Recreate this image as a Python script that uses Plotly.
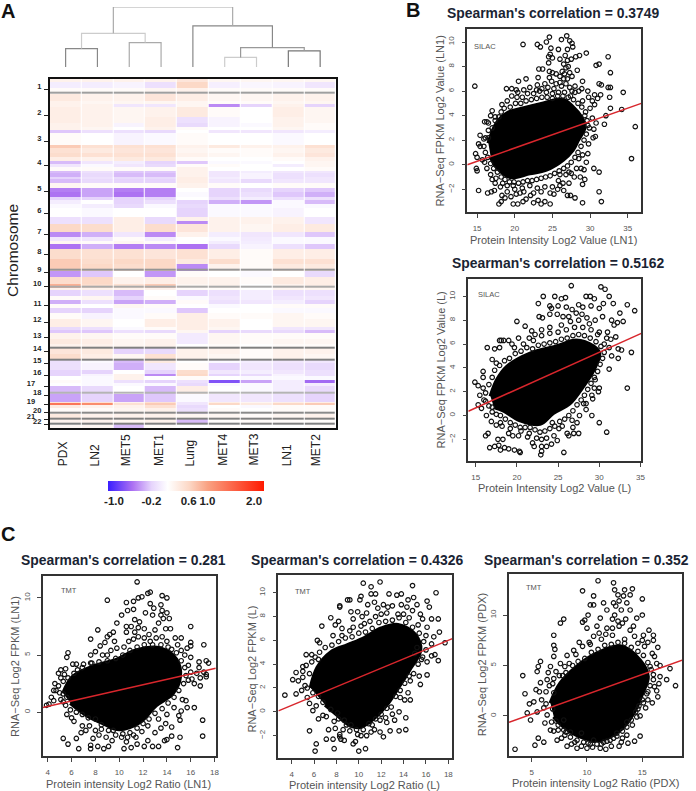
import plotly.graph_objs as go

W, H = 696, 791
FONT = 'Liberation Sans'
TICK_GREY = '#555555'

# ---- panel A: heatmap bands, position runs along the genome (top to bottom)
SAMPLES = ['PDX', 'LN2', 'MET5', 'MET1', 'Lung', 'MET4', 'MET3', 'LN1', 'MET2']
SAMPLE_LABEL_X = [63, 96, 127, 160, 191, 224, 255, 289, 318]

BAND_EDGES = [237, 247, 265, 283, 303, 313, 322, 350, 368, 380, 390, 400, 435, 445, 460, 470, 482, 492, 500, 512,
              520, 530, 538, 548, 565, 575, 590, 600, 612, 625, 650, 662, 672, 695, 710, 722, 733, 745, 775, 790,
              813, 830, 852, 862, 870, 888, 898, 910, 922, 938, 955, 980, 988, 998, 1015, 1030, 1043, 1060, 1078,
              1088, 1110, 1120, 1128, 1140, 1148, 1157, 1180, 1205, 1209, 1215, 1223, 1240, 1257, 1272, 1283]

PDX = [.3, 0, .2, .4, .3, .3, .35, .35, .3, .3,
       -.25, .2, .7, .5, .55, .35, -.3, -.05, .2, -.3,
       -.35, -.2, -.3, .25, -.55, -.6, -.2, 0, .1, .15,
       -.1, -.1, .6, -.5, -.05, .25, -.6, .55, .7, .7,
       -.45, .55, .9, .3, -.2, .2, -.35, .2, -.2, .2,
       .35, -.15, -.25, .3, .4, .3, .45, .55, -.1, -.1,
       -.2, -.2, .15, .2, .15, -.3, -.4, .5, 1.4, .4,
       .2, .4, .3, .25]
LN2 = [.3, 0, .2, .3, .25, .3, .3, .3, .3, .25,
       -.1, .15, .5, .4, .5, .3, -.05, .1, .2, -.1,
       -.15, -.1, -.15, .2, -.4, -.4, -.2, .15, 0, .1,
       -.1, -.1, .55, -.35, -.05, .2, -.35, .5, .55, .6,
       -.25, .6, .55, .3, -.1, .25, -.1, .15, -.2, .05,
       .25, -.1, -.25, .25, .35, .3, .4, .35, .1, .05,
       -.2, .05, .1, .1, .1, -.15, -.2, .5, 1.2, .3,
       .2, .3, .3, .25]
MET5 = [.3, .05, .2, .3, .25, -.05, .25, .25, .05, .15,
        -.1, .05, .5, .45, .5, .4, 0, -.05, .2, -.25,
        -.3, -.15, -.2, .2, -.55, -.6, -.2, -.2, -.15, .15,
        .35, .35, .35, -.05, .2, .25, -.55, .5, .6, .55,
        .15, .3, .5, .3, -.3, -.2, -.4, .25, .1, .1,
        .15, .1, -.1, .2, .25, .25, -.2, .25, -.3, -.35,
        .15, .3, .3, -.1, .1, .15, -.4, .3, .5, .3,
        .25, .3, .25, -.3]
MET1 = [.3, -.1, .25, .45, .25, -.05, .3, .35, .35, .3,
        -.15, .1, .5, .45, .5, .4, -.2, -.15, .2, -.25,
        -.3, -.15, -.2, .2, -.55, -.55, -.2, -.1, .1, .15,
        -.15, -.15, .55, -.5, 0, .2, -.5, .45, .6, .6,
        -.45, .35, .7, .3, .15, .2, -.35, .2, .1, .2,
        .35, .2, -.15, .2, .3, .3, -.15, .5, .4, -.05,
        -.2, -.5, .15, -.2, .1, -.3, -.25, .5, .7, .5,
        .3, .3, .3, .2]
LUNG = [.45, .6, .3, .35, .25, .25, .4, -.1, -.15, .2,
        .15, .2, .3, .25, .3, .2, -.25, .2, .3, .3,
        .3, .35, .35, .3, .15, .1, .15, -.2, -.15, -.2,
        .3, -.5, .45, .3, .15, .15, -.6, .5, .4, -.5,
        .2, .3, .25, .2, -.2, .1, .2, .15, -.25, .35,
        .35, .35, .25, -.02, -.02, .15, .3, .3, .15, .2,
        .55, .6, .2, -.1, -.15, .35, .1, -.05, -.05, -.15,
        -.1, .25, -.3, .15]
MET4 = [.25, .02, .2, .25, .2, -.5, .2, .05, .05, .15,
        -.05, .15, .4, .2, .25, .15, .1, .2, .15, -.05,
        -.05, 0, -.05, .2, -.2, -.2, -.1, -.35, .1, .1,
        .3, .3, .3, 0, .1, 0, -.15, .35, .55, .3,
        .15, .3, .3, .2, -.1, -.05, -.1, .1, .15, .2,
        .3, .25, -.2, .25, .25, .2, .3, .25, .1, -.2,
        -.05, -.2, .15, -.8, .1, .15, -.05, .35, .6, .15,
        .2, .25, .2, .2]
MET3 = [.25, .08, .2, .25, .2, -.2, .15, .15, .1, .15,
        -.05, .15, .3, .2, .2, .15, .1, .15, .15, 0,
        .05, .05, -.15, .15, -.15, -.1, 0, -.45, .1, .1,
        .3, .3, .25, -.05, -.02, 0, .05, .2, .2, .2,
        .1, .2, .15, .15, 0, 0, -.05, .15, .15, .2,
        .15, .15, -.15, .2, .2, .15, .2, .2, 0, -.05,
        0, -.15, .1, -.4, .1, .1, -.05, .25, .4, .1,
        .15, .2, .2, .15]
LN1 = [.25, .05, .2, .3, .25, .3, .35, .3, .3, .25,
       -.05, .1, .3, .25, .3, .2, .15, 0, .15, -.05,
       -.1, -.1, -.05, .2, -.2, -.25, -.1, .1, .1, .05,
       .3, .3, .35, -.05, .1, .1, -.1, .35, .5, .4,
       .15, .4, .3, .25, -.1, -.05, 0, .2, .1, .25,
       .25, -.05, -.15, .2, .25, .2, .3, .3, -.05, -.1,
       -.05, .05, .1, 0, 0, 0, -.1, .35, .6, .2,
       .2, .25, .2, .15]
MET2 = [.25, -.05, .2, .3, .25, -.2, .25, .25, .2, .2,
        0, .15, .5, .4, .45, .3, .25, .25, .2, -.05,
        -.1, -.05, -.05, .2, -.25, -.35, -.1, -.3, .1, .15,
        -.05, -.05, .4, -.25, .1, .1, -.25, .35, .5, .4,
        -.15, .35, .35, .25, -.1, -.05, -.2, .2, .1, .2,
        .25, -.05, -.3, .2, .25, .2, .3, .25, -.05, -.15,
        -.1, -.1, .1, -.65, 0, -.15, -.2, .35, .7, .2,
        .2, .3, .2, .2]

# rows without data, they show up as grey lines
MISSING_ROWS = [275, 805, 855, 1038, 1074, 1173, 1235, 1253, 1267]
MISSING_LEVEL = [.7, .8, .6, 1, 1, .5, .9, 1, 1]

CHROM_POS = [267, 345, 425, 495, 573, 640, 702, 762, 816, 860, 917, 967, 1013, 1053, 1090, 1125, 1158, 1185, 1212,
             1238, 1258, 1272]
CHROM_LABELS = ['1', '2', '3', '4', '5', '6', '7', '8', '9', '10', '11', '12', '13', '14', '15', '16',
                '17\u00a0\u00a0\u00a0', '18', '19\u00a0\u00a0\u00a0', '20', '21\u00a0\u00a0\u00a0', '22']

COLOR_TICKS = [-1.0, -0.2, 0.6, 1.0, 2.0]

# dendrogram: children are leaf numbers, or 9 + index of an earlier merge
MERGE_LEFT = [0, 2, 9, 5, 7, 12, 4, 11]
MERGE_RIGHT = [1, 3, 10, 6, 8, 13, 14, 15]
MERGE_HEIGHT = [56, 74, 102, 29, 49, 59, 125, 182]
MERGE_COLOUR = ['#888888', '#aaaaaa', '#cccccc', '#cccccc', '#777777', '#999999', '#888888', '#aaaaaa']

# ---- scatter panels, the solid core is an outline
B1_POINTS = [(14.7, 6.4), (15.2, -2.1), (21.1, 9.8), (23, 9.8), (23.4, 9.6), (24.2, 10), (24.6, 10.4), (24.8, 9.5),
             (24.7, 9), (24.5, 8.8), (24.5, 8.3), (25, 8.7), (26.2, 10.2), (26.9, 10.5), (27.3, 10.1), (27.6, 9.9),
             (27.7, 9.6), (27, 9.4), (26.7, 8.9), (27, 8.5), (26.5, 8.2), (26, 8.6), (27.5, 8.6), (28.1, 8.8),
             (28.6, 8.9), (29.5, 9.1), (25.8, 9.4), (30.8, 8.1), (31.2, 8.2), (32.4, 8.8), (32.7, 7.5), (31.2, 6.6),
             (31.5, 6.5), (32.4, 6.3), (32.7, 6.3), (34.4, 5.9), (32.6, 5.5), (32.7, 4.6), (34.2, 4.5), (36, 3.1),
             (35.5, 0.5), (32.1, 4), (31.9, 3.3), (30.5, -0.3), (31.2, -0.6), (31.2, -2.2), (31.5, -3), (29, -3.1),
             (28, -2.7), (27.4, -2.5), (27, -2.5), (21.5, 7), (20.5, 6.8), (19.6, 6.2), (20.2, 6.1), (18.9, 6.2),
             (23.2, 7.8), (23.7, 7.8), (23.1, 7.1), (24.6, 7.6), (25, 7.5), (25.5, 7.4), (26, 7.2), (26.5, 7),
             (27, 7), (27.6, 7.2), (28.3, 7.7), (24, 6.6), (24.9, 6.8), (25.5, 6.6), (26.2, 6.4), (27.3, 6.3),
             (28, 6.4), (29, 6.8), (28, 5.9), (16, 3.5), (16.3, 3.5), (15.4, 2.4), (15.2, 1.7), (15.4, 1.5),
             (14.8, 0.9), (15, 0.6), (15.7, 0.4), (14.9, -0.3), (15, -0.5), (16.5, 3.4), (17, 4.4), (16.8, 4),
             (17.4, 3.9), (16.5, 2.8), (15.9, 2.1), (16, 0.2), (16.3, -0.3), (16.8, -0.8), (17, -1.2), (17.4, -1.5),
             (16.9, -2.2), (16.4, -2.3), (17.3, -2.1), (18.1, -1.8), (18.3, -2.5), (18.7, -2.7), (18.2, -3),
             (17.9, -3.2), (19, -2.2), (19.8, -1.7), (20.2, -2.4), (20.7, -2.3), (19.8, -3.2), (20.4, -3.2),
             (21.1, -3), (21.2, -2.2), (21.5, -2.8), (22.1, -2.5), (22.5, -3.1), (23.1, -2.9), (23.5, -3.2),
             (24, -3), (24.7, -3.2), (24.7, -2.3), (25.2, -2.4), (25.7, -2), (25.8, -1.3), (26.4, -1.5), (26, -0.8),
             (26.8, -0.8), (26.5, -2.1), (27.2, -1.5), (27.5, -0.7), (28.2, -0.3), (28.8, -0.3), (29.2, -0.4),
             (29, -1.6), (29.3, -1.2), (29.5, 0.2), (29, 0.8), (28.5, 0.5), (29.7, 0.9), (29.8, 1.7), (30.4, 2.2),
             (30.7, 2.3), (30.5, 2.9), (30.8, 3.4), (30.3, 3.8), (29.7, 3.2), (29.4, 4.3), (30, 4.6), (30.6, 4.9),
             (31, 5.4), (31.4, 5.7), (30.6, 5.7), (29.8, 5.5), (29, 5.2), (28.5, 6), (27.4, 5.6), (26.6, 5.9),
             (25.8, 5.9), (25, 5.8), (24.2, 5.9), (23.3, 6), (22.5, 5.8), (21.7, 5.8), (21, 5.5), (20.3, 5.5),
             (19.6, 5.6), (19, 5.2), (18.3, 4.9), (18.2, 4.3),
             (18.6, 4.6), (19.4, 4.7), (20.1, 5), (20.8, 5), (21.5, 5.2), (22.2, 5.3), (22.9, 5.4), (23.6, 5.5),
             (24.3, 5.5), (25, 5.4), (25.7, 5.6), (26.4, 5.6), (27.1, 5.5), (27.8, 5.3), (28.4, 5), (28.9, 4.7),
             (29.3, 4), (29.6, 3.6), (29.9, 3), (29.5, 2.5), (29.2, 2), (28.8, 1.5), (28.4, 1), (28, 0.6), (27.5, 0.2),
             (27, -0.1), (26.5, -0.3), (25.9, -0.5), (25.3, -0.7), (24.7, -0.9), (24.1, -1), (23.5, -1.1), (22.9, -1.2),
             (22.3, -1.3), (21.7, -1.3), (21.1, -1.4), (20.5, -1.5), (19.9, -1.4), (19.3, -1.4), (18.7, -1.2),
             (18.2, -1), (17.7, -0.6), (17.2, -0.3), (16.8, 0.1), (16.4, 0.6), (16.1, 1), (15.9, 1.5), (16.1, 2.2),
             (16.5, 2.2), (17, 3), (17.4, 3.6), (17.9, 3.9), (23, 6.5), (23.6, 6.2), (24.4, 6.3), (25.2, 6.2), (26, 6.7),
             (26.8, 6.6), (27.6, 6), (24.6, 7.1), (26.3, 7.6), (26.8, 7.9), (27.1, 8), (26.6, 7.4), (27.3, 7.5),
             (22.9, 6.1), (22, 6.3), (21.2, 6.1), (20.4, 5.9), (28.9, 6.2), (29.7, 6), (30.3, 5.2), (28.7, -1), (27.9, -1),
             (27.2, -0.6), (26, -1.7), (25, -1.8), (24, -1.8), (23, -1.9), (22, -1.7), (21, -1.9), (20, -2), (19, -1.7),
             (18.4, -1.5), (17.5, -1.1), (23.5, -2.2), (22.5, -2.3), (19.5, -2.6)]
B1_CORE = [(16.5, 1.75), (17.6, 3.4), (19, 4.2), (21.2, 4.6), (23.8, 5.0), (26.4, 5.3), (27.7, 4.7), (28.8, 3.9),
           (29.3, 3.1), (28.4, 2.0), (27.7, 1.2), (26.4, 0.4), (24.2, -0.4), (22, -0.7), (19.4, -1.0), (17.6, -0.2),
           (16.8, 0.65)]
B1_FIT = [(13.7, 0), (36.8, 5.0)]

B2_POINTS = [(26.6, 10.9), (30.2, 10.8), (30.7, 10.6), (31.2, 10), (31.7, 9.4), (30.5, 9.4), (33.4, 9.3), (34.3, 8.8),
             (32.5, 8.6), (23.2, 10), (22.6, 9.4), (24.6, 10), (25.4, 9.8), (25.9, 9.9), (24, 9.2), (24.2, 9), (25, 9.2),
             (26, 9.1), (26.7, 8.9), (27.5, 9.3), (28.4, 10), (28.9, 10), (29.4, 9.8), (28, 9.1), (29, 9.2), (30, 9),
             (20, 7.9), (21, 7.5), (22.7, 8.3), (23.1, 8.2), (24, 8.5), (24.9, 8.5), (25.6, 8.3), (26.5, 7.9), (27.5, 8),
             (28.5, 8.2), (29.5, 8), (30.4, 8.3), (31.5, 8), (32.2, 7.8), (32.9, 7.9), (31.8, 7.6), (21.8, 7.1),
             (22.2, 6.8), (23, 7.2), (24, 7.4), (19, 6.3), (18.1, 6.3), (17.9, 6.3), (18.4, 6.3), (16.4, 5.7), (17.3, 5.6),
             (17.9, 5.7), (19.4, 6), (19.7, 5.7), (20.2, 6.5), (32, 6.6), (30.9, 6.5), (29.8, 6.8), (31.2, 5.7),
             (32.3, 5.6), (32.7, 5.5), (33.9, 5.3), (31.5, 5), (32.3, 4.8), (31.2, 3.9), (33.4, 2.3), (30.9, -1.4),
             (30, -0.6), (29.1, 0), (28.1, 1), (28.4, 1), (29.2, 1.4), (29.1, 1.7), (29.4, 2.3), (29.9, 2), (30, 2.3),
             (29.5, 3), (26.8, -1), (26.1, -1.5), (26.3, -1.7), (25.7, -3.1), (25.1, -1.1), (24.3, -0.6), (24.9, -2.1),
             (24.2, -2.4), (23.6, -2.6), (23, -2.6), (23, -3), (22.9, -3.3), (23, -2), (22.1, -2.6), (21.9, -2.3),
             (20.4, -3.1), (20.3, -3), (19.7, -2.9), (19, -2.8), (18.5, -2.7), (18, -2.9), (17.8, -2.5), (16.7, -2.7),
             (17.3, -2.6), (16.5, -1.5), (16.2, -1.7), (17.7, -2), (18.3, -2), (19, -1.5), (19.5, -1.7), (20.5, -1.3),
             (21.5, -1.5), (25.5, -0.9), (27.5, -1.5), (26.9, -1.5), (24.5, -1.7), (15.9, 3.7), (15.9, 3.2), (14.9, 2.8),
             (15.3, 2.5), (15.9, 2.3), (15.5, 1.7), (16, 1.3), (15.3, 0.9), (15.7, 0.6), (16.3, 0), (17, 0.7), (16.9, -0.5),
             (17.5, -0.8), (18, -0.6), (17, 4.7), (17.5, 4.4),
             (16.2, 1.9), (16.6, 2.6), (17, 3.2), (17.3, 3.8), (17.9, 4.2), (18.5, 4.6), (19.1, 4.8), (19.8, 5.2),
             (20.5, 5.4), (21.2, 5.7), (21.9, 5.6), (22.6, 5.9), (23.3, 6), (24, 6.1), (24.7, 6.2), (25.4, 6.4), (26.1, 6.5),
             (26.8, 6.7), (27.5, 6.8), (28.2, 6.7), (28.9, 6.5), (29.6, 6.2), (30.2, 5.8), (30.6, 5.3), (30.4, 4.8),
             (30.1, 4.3), (29.8, 3.7), (29.4, 3.2), (29, 2.7), (28.6, 2.2), (28.2, 1.7), (27.8, 1.3), (27.3, 0.9),
             (26.8, 0.4), (26.3, 0), (25.8, -0.3), (25.2, -0.5), (24.6, -0.9), (24, -1.1), (23.4, -1.3), (22.8, -1.4),
             (22.2, -1.2), (21.6, -1), (21, -1), (20.4, -1), (19.8, -0.8), (19.2, -0.6), (18.6, -0.3), (18, 0), (17.5, 0.1),
             (17, 0.3), (16.6, 0.8), (16.2, 1.2), (22, 6.3), (23, 6.7), (24, 6.9), (25, 7), (26, 7.2), (27, 7.4), (28, 7.4),
             (29, 7.2), (30, 7), (31, 7), (25.4, 7.6), (26.3, 8.3), (27.2, 8.6), (27.9, 8.5), (28.8, 7.7), (20.8, 6),
             (21.5, 6.5), (30.6, 6), (31.4, 6.4), (28.4, 0.5), (27.6, 0), (26.7, -0.4), (22.4, -1.9), (21.3, -1.8),
             (20.2, -1.7), (19.2, -1.1), (18.2, -0.9), (23.6, -1.9), (27.3, -0.6)]
B2_CORE = [(16.8, 1.6), (17.6, 3.0), (18.8, 4.1), (21.6, 5.2), (24.8, 5.8), (27.2, 6.3), (29.3, 5.8), (30, 5.2),
           (29.3, 3.8), (28, 2.4), (26.4, 1.0), (24.4, 0.2), (22.8, -0.7), (20.4, -0.4), (18.4, 0.4), (17.2, 0.7)]
B2_FIT = [(14.1, 0.36), (35.1, 6.9)]

C1_POINTS = [(11.5, 11.4), (12.4, 10.4), (12.6, 10.5), (13.6, 10.2), (14, 10), (11.9, 10.1), (11.6, 10), (11.2, 9.7),
             (10.6, 9.6), (9, 9.8), (12.6, 9.5), (13.5, 9.4), (11.2, 9), (10.7, 8.9), (12.9, 9.1), (13.6, 8.9), (14, 8.7),
             (12.2, 8.7), (12.8, 8.5), (10.2, 8.5), (13.5, 8.5), (13.7, 8.2), (14.2, 8.2), (11.3, 8.1), (11.7, 7.9),
             (9.8, 7.8), (10.6, 7.5), (11, 7.5), (11.6, 7.4), (12.1, 7.3), (13.9, 7.3), (14.3, 7.3), (16, 7.5), (8.2, 7.2),
             (9.5, 7), (9.2, 6.8), (10.6, 7), (9, 6.6), (7.6, 6.4), (12.5, 6.8), (8.8, 6.1), (9.6, 6.2), (14.7, 6.5),
             (15.2, 6.5), (16, 6.1), (16, 5.8), (17.1, 5.9), (15.7, 5.6), (15.2, 5.4), (15.5, 5), (16, 4.8), (14.4, 5.5),
             (5.7, 5.2), (5.6, 4.8), (7.6, 5), (8, 5.3), (8.6, 5), (9, 5), (6.1, 4.2), (6.4, 4.2), (7, 4.2), (7.7, 4.3),
             (5.5, 3.8), (5.1, 3.7), (4.9, 3.4), (5.4, 3.3), (6.5, 3.7), (16.7, 4.4), (17.3, 4.5), (17.5, 4.3), (15.8, 4.1),
             (16, 3.5), (16.7, 3.9), (16.5, 3.4), (17.1, 3.5), (17.3, 3.3), (16.8, 3), (16.1, 2.9), (16.3, 2.5), (16.8, 2.3),
             (17.3, 3.1), (15.8, 2.8), (4.5, 1.9), (4.7, 1.9), (5, 1.7), (4.3, 1.3), (4.1, 0.7), (5.3, 0.9), (5.6, 1.3),
             (5.3, 1.6), (15.3, 1.1), (15.6, 1), (15.7, 0.4), (16.3, 0.4), (15.2, 0.1), (15.1, -0.7), (15, -0.3), (14.4, -1.3),
             (13.9, -1), (13.5, -1.4), (14.4, -2.1), (15.1, -2.2), (17, -0.7), (17, -2.1), (14.9, -3.1), (14, -2.4),
             (13.8, -2.5), (13.3, -3), (12.8, -3), (12.1, -3), (11.5, -2.8), (11, -3.1), (10.4, -3.2), (9.1, -3), (8.7, -3.2),
             (8.2, -3), (7.6, -3.2), (7.6, -2.9), (6.6, -3.2), (6.4, -2.3), (5.7, -2.8), (5.3, -2.3), (7.8, -2.3), (8, -1.6),
             (8.5, -1.5), (9.5, -1.6), (10.2, -2.2), (10.7, -2.2), (11.2, -2), (12.4, -2.5), (13, -1.8), (6.2, -0.8),
             (6.9, -1.2), (7.5, -1.2), (5.6, -0.2), (6, -0.5),
             (4.9, 2.3), (5.3, 2.7), (5.7, 3), (6.2, 3.4), (6.9, 3.9), (7.6, 4.3), (8.3, 4.4), (9, 4.5), (9.7, 4.7), (10.3, 5),
             (10.9, 5.4), (11.5, 5.7), (12.1, 5.9), (12.8, 5.9), (13.5, 5.9), (14.1, 5.7), (14.8, 5.2), (15.2, 4.5),
             (15.5, 3.9), (15.6, 3.2), (15.4, 2.5), (15, 1.9), (14.6, 1.3), (14.1, 0.8), (13.6, 0.3), (13, -0.1), (12.5, -0.6),
             (12, -1), (11.5, -1.4), (10.9, -1.8), (10.3, -1.9), (9.7, -2), (9.1, -1.6), (8.5, -1.1), (8, -0.6), (7.4, -0.5),
             (6.9, -0.2), (6.4, 0), (5.9, 0.2), (5.5, 0.6), (5.1, 1.1), (10.4, 5.7), (10.8, 6.2), (11.2, 6.4), (11.6, 6.6),
             (12.1, 6.5), (12.6, 6.2), (13.1, 6.5), (13.6, 6.6), (14, 6.2), (11.3, 7), (13, 7.2), (13.3, 7.8), (9.8, 5.6),
             (9.3, 5.4), (8.4, 5.8), (14.9, 5.9), (10.6, -2.6), (11.4, -2.2), (11.9, -1.7), (9.4, -2.5), (8.9, -2.2), (8.3, -2),
             (6.8, -1.8), (7.2, -1.6), (12.4, -1.2), (13.3, -0.6), (14, -0.2), (14.6, 0.4), (5.1, 3), (4.6, 2.5), (3.9, 0.6),
             (4.5, 1)]
C1_CORE = [(5.3, 1.66), (6.1, 3.1), (7.8, 4), (9.8, 4.6), (11.4, 5.4), (13.4, 5.6), (14.8, 4.6), (15.1, 3.1), (14.5, 1.66),
           (13.1, 0.6), (11.7, -0.9), (10, -1.5), (8.7, -1), (7.3, -0.3), (5.9, 0.8)]
C1_FIT = [(3.58, 0.41), (18.1, 3.84)]

C2_POINTS = [(10.4, 10.8), (11.9, 10.9), (11.1, 10.5), (14.8, 10.6), (16.9, 10), (9.2, 9.4), (10.1, 9.4), (10.2, 9.7),
             (11.1, 9.9), (11.5, 9.9), (12.7, 9.9), (13.4, 9.8), (13.8, 9.9), (14.4, 9.4), (14.9, 9.6), (15.2, 9), (16.1, 9.3),
             (16.3, 8.8), (8.3, 8.9), (9.3, 8.4), (9.9, 8.4), (10.7, 8.3), (11.4, 9.2), (12.2, 9), (15.7, 7.8), (16.5, 7.8),
             (17.1, 7.8), (16.1, 7.1), (17.2, 6.7), (16.5, 5.7), (17.7, 5.8), (16.5, 4.7), (16.8, 4.8), (16.1, 4.2), (17.1, 4.3),
             (15.4, 3), (16.1, 3.1), (15.5, 2.3), (14.4, 1.6), (14.1, 1), (14.6, 1), (14.2, -0.5), (14.2, -1.5), (13.6, -1.6),
             (12.8, -1.6), (12.2, -2.1), (11.9, -1.7), (11.1, -1.7), (10.6, -3.1), (10, -3.3), (9.5, -2.7), (8.4, -2.3),
             (8.3, -1.9), (9.2, -1.6), (13.2, -0.7), (13.6, 0), (11.9, -0.7), (3.4, 1.4), (4.4, 1.5), (4.1, 2.7), (4.6, 2.6),
             (4.4, 3.3), (5, 3.8), (5, 3.4), (5.3, 4.8), (5.6, 3.2), (6.3, 6), (6.5, 5.8), (6.7, 7.2), (7.5, 7.9), (7.9, 7.3),
             (8.5, 7), (8.3, 8.8), (9, 9.4), (6.1, 4.6), (5.8, 4.2), (6.5, 5), (5.2, 2.2), (4.9, 1.8), (5.6, 0.7), (5.9, 0.1),
             (5.6, -1.6), (6.2, -2.7), (6.1, -3.3), (7.8, -3.1), (7.1, -2.3), (7.7, -2.3), (8.3, -2.1), (7.3, -1.5), (7.9, -1.4),
             (6.4, -0.6), (7.1, -0.4), (8.7, -2.4), (14.5, 7.9), (13.5, 8.2), (12.5, 8.3), (11.5, 8), (10.5, 7.4), (9.5, 7.1),
             (8.5, 6.4), (15.3, 7.3), (14.3, 8.8), (13, 8.9), (15.2, 5.4), (15.6, 4.4), (14.9, 3.2), (14.6, 2.6), (13.7, 1.2),
             (12.9, 0.4), (12.4, -0.5), (11.2, -1.1), (10.2, -2), (9.8, -1.5), (8.9, -1.1), (8.2, -0.6), (7.5, 0.2), (6.8, 0.8),
             (5, 2.9), (5.3, 3.9), (5.8, 4.8), (6.4, 4.4), (7, 5.4), (7.6, 5.6), (8.2, 5.9), (8.8, 6.2), (9.4, 6.3), (10, 6.6),
             (10.6, 6.7), (11.2, 7), (11.8, 7.5), (12.4, 7.6), (13, 7.7), (13.6, 7.9), (14.2, 7.5), (14.8, 7.1), (15.4, 6.6),
             (15.8, 5.9), (16, 5.2), (15.7, 4.6), (15.3, 4), (14.5, 3), (14.1, 2.4), (13.7, 1.8), (13.3, 1.3), (12.5, 0.3),
             (12, -0.2), (11.5, -0.6), (10.9, -1), (10.4, -1.5), (9.9, -1.9), (9.3, -1.1), (8.7, -0.7), (8.1, -0.1), (6.4, 1.3),
             (5.9, 1.6), (5.4, 2), (9.2, 6.8), (10.2, 7.2), (11, 7.6), (12, 8.2), (14, 8.2), (14.8, 8.5), (15.5, 8.2),
             (12.6, 8.8), (13.8, 9), (11.7, 8.7), (10.3, 8), (7.7, 6.4), (8.2, 7.6), (9.5, 7.8), (10.8, 9), (16, 6.4), (16.7, 6.3),
             (15, 4.9), (9.7, -2.5), (10.7, -2), (11.4, -1.5), (12.5, -0.9), (13, -0.2), (8.6, -1.5), (7.8, -0.8), (6.8, -0.3),
             (6.2, 0.5), (5.4, 1.2)]
C2_CORE = [(5.7, 2), (6.3, 3.7), (7.5, 5), (9, 5.6), (10.5, 6.2), (12, 7), (13.5, 7.3), (15, 6.5), (15.5, 5.2), (14.5, 3.5),
           (13.5, 2), (12.5, 0.6), (11, -0.8), (10, -1.3), (9, -1), (8, -0.2), (7, 0.6)]
C2_FIT = [(2.82, 0.08), (18.36, 6.15)]

C3_POINTS = [(11, 13.4), (12.4, 13.2), (9.6, 12.4), (12.5, 12.5), (14.1, 12.6), (10.6, 11.9), (12.8, 12), (13.3, 11.9),
             (13.9, 12), (15, 11.6), (10.6, 11), (11.5, 11.2), (12.4, 11.2), (13.6, 11.2), (10.3, 11), (7.9, 9.6), (7.6, 9.2),
             (10.1, 10), (9.8, 9.5), (9.6, 9.3), (11.2, 9.7), (11.8, 10.5), (12.5, 10), (13.9, 10.5), (14.5, 9.7), (15, 10),
             (10, 8.7), (11.8, 8.7), (7, 8), (7, 7), (7.1, 6.6), (10.6, 7.9), (13.9, 8.5), (15.6, 8.5), (16, 8), (15.1, 8),
             (16, 7.5), (16.4, 6.8), (14.6, 7.2), (4.2, 4), (5.5, 4.4), (5.8, 5.4), (5.6, 4.9), (6.7, 4.9), (6.5, 4.3), (7, 5.9),
             (7.6, 5.2), (5.8, 3.3), (6.4, 3.6), (4.4, 2.2), (5.4, 2.6), (5.7, 2.4), (4.8, 1.2), (5.2, 1.4), (4.6, 0.3), (5.5, 0.4),
             (4.9, -0.4), (3.5, -3.3), (5.3, -2.9), (5.6, -2.2), (6.1, -2.6), (6.7, -1.4), (7.3, -2.4), (6.2, -0.7), (7.4, -1.4),
             (8.2, -3), (9.1, -3.2), (10, -3.2), (11.2, -3.2), (12.2, -3), (12.9, -3), (13.7, -2.7), (14.3, -2.5), (14.8, -2),
             (13.6, -1.9), (13.6, -1.1), (14.5, -0.1), (14.8, 0), (15.5, 1.6), (16.4, 1.9), (16.3, 2.5), (15.5, 2.4), (18, 3),
             (17.5, 4.7), (17.2, 3.6), (16.6, 3.9), (16, 4.1), (16.3, 5.2), (15.7, 4.9), (16.1, 5.9), (9.5, -1.7), (10.6, -2.4),
             (11.8, -2.5), (12.7, -1.7), (8.5, -2.1), (7.9, -0.4), (8.2, 6), (8.8, 6.5), (9.6, 6.9), (10.3, 7.1), (11.3, 7.6),
             (12.3, 8), (12.9, 8.9), (13.4, 7.6), (14.3, 7.9), (15.2, 6.9), (15.9, 6.2), (8, 4.9), (7.2, 4.4), (7.8, 4),
             (6.9, 3.2), (7, 2.3), (6.3, 1.2), (6.9, 0.7), (7.2, -0.5), (8.1, -1.6), (8.9, -2.6), (10.1, -2.7), (11.3, -2.8),
             (12.4, -2.2), (13.2, -2.2), (14.1, -0.9), (14.6, 0.7), (15.1, 1.3),
             (5.9, 1.6), (6.3, 2.4), (6.6, 3), (7, 3.7), (7.5, 4), (8.1, 4.3), (8.7, 5), (9.2, 5.4), (9.8, 5.7), (10.4, 6.3),
             (11, 6.6), (11.6, 7), (12.2, 7.1), (12.8, 7.3), (13.4, 7.2), (14, 6.8), (14.6, 6.4), (15.1, 6), (15.5, 5.3),
             (15.8, 4.6), (16, 3.6), (15.7, 3), (15.4, 2.2), (15, 1.6), (14.7, 1), (14.4, 0.4), (14, -0.4), (13.6, -0.6),
             (13.2, -1.5), (12.7, -2), (12.1, -2.4), (11.5, -2.6), (10.9, -2.8), (10.3, -2.8), (9.7, -2.6), (9.1, -2.4),
             (8.5, -1.6), (7.9, -1.4), (7.4, -0.9), (6.8, -0.6), (6.4, 0.1), (6.1, 0.8), (10.2, 7.3), (11.1, 8.2), (11.7, 8.1),
             (12.3, 8.7), (12.8, 9.4), (13.2, 9.2), (13.5, 9.6), (12.6, 10.9), (13.1, 10.5), (12.3, 9.6), (14.2, 8.9), (15, 7.5),
             (15.5, 7.3), (9, 6.1), (8.4, 5.2), (9.3, 7.3), (10.9, 8.9), (13.4, 12.5), (12.9, 11.4), (16.6, 5), (16.5, 3.2),
             (16.1, 2.9), (15.9, 1.3), (15.3, 0.8), (10.5, -3.1), (11.7, -3.3), (13.1, -2.6), (9.5, -3), (8.6, -2.8), (7.7, -2.2),
             (8, -1.9), (7, -1.5)]
C3_CORE = [(6.7, 1.26), (7.6, 3.25), (9.1, 4.9), (10.9, 6.2), (13, 6.9), (14.8, 5.5), (15.5, 3.9), (15, 2.25), (14.2, 0.27),
           (13, -1.4), (11.2, -2.4), (9.4, -2.05), (7.9, -1.06), (7, -0.07)]
C3_FIT = [(2.96, -0.63), (18.59, 5.53)]


def px(x):
    return x / W


def py(y):
    return 1 - y / H


def text(x, y, label, size, colour='#222222', bold=False, angle=0, yanchor='middle', xanchor='center'):
    return dict(x=px(x), y=py(y), xref='paper', yref='paper', text='<b>{}</b>'.format(label) if bold else label,
                showarrow=False, textangle=angle, xanchor=xanchor, yanchor=yanchor,
                font={'size': size, 'color': colour, 'family': FONT})


# frame in pixels, ranges and ticks of each scatter panel
panels = [
    dict(points=B1_POINTS, core=B1_CORE, fit=B1_FIT, frame=(470, 645, 29, 212), xr=[13.7, 36.8], yr=[-3.85, 11.06],
         xt=[15, 20, 25, 30, 35], yt=[-2, 0, 2, 4, 6, 8, 10], tag='SILAC', tag_at=(488, 46)),
    dict(points=B2_POINTS, core=B2_CORE, fit=B2_FIT, frame=(471, 645, 279, 461), xr=[14.1, 35.1], yr=[-3.82, 11.46],
         xt=[15, 20, 25, 30, 35], yt=[-2, 0, 2, 4, 6, 8, 10], tag='SILAC', tag_at=(492, 294)),
    dict(points=C1_POINTS, core=C1_CORE, fit=C1_FIT, frame=(43, 217, 576, 756), xr=[3.58, 18.1], yr=[-3.84, 11.92],
         xt=[4, 6, 8, 10, 12, 14, 16, 18], yt=[0, 5, 10], tag='TMT', tag_at=(69, 590)),
    dict(points=C2_POINTS, core=C2_CORE, fit=C2_FIT, frame=(280, 455, 575, 758), xr=[2.82, 18.36], yr=[-3.88, 11.49],
         xt=[4, 6, 8, 10, 12, 14, 16, 18], yt=[-2, 0, 2, 4, 6, 8, 10], tag='TMT', tag_at=(305, 591)),
    dict(points=C3_POINTS, core=C3_CORE, fit=C3_FIT, frame=(512, 686, 574, 756), xr=[2.96, 18.59], yr=[-3.97, 14.07],
         xt=[5, 10, 15], yt=[0, 5, 10], tag='TMT', tag_at=(537, 587)),
]

colorscale = [[0, '#3a1fff'], [.159, '#ad72f2'], [.279, '#e6d4fc'], [.383, '#ffffff'],
              [.52, '#fcd8c6'], [.638, '#f9a283'], [1, '#ff1a00']]

fig = go.Figure()

samples_z = [PDX, LN2, MET5, MET1, LUNG, MET4, MET3, LN1, MET2]
z = [[col[i] for col in samples_z] for i in range(len(PDX))]
fig.add_trace(go.Heatmap(
    z=z, x=list(range(10)), y=BAND_EDGES, zmin=-1.13, zmax=2.21, colorscale=colorscale, xgap=1, xaxis='x', yaxis='y',
    hoverinfo='skip',
    colorbar=dict(orientation='h', x=px(187), xanchor='center', y=py(503), yanchor='bottom', len=156, lenmode='pixels',
                  thickness=10, outlinewidth=0, xpad=0, ypad=0, tickvals=COLOR_TICKS,
                  ticktext=['-1.0', '-0.2', '0.6', '1.0', '2.0'], ticks='', tickangle=0,
                  tickfont={'size': 11.5, 'color': '#222222', 'family': FONT, 'weight': 'bold'})
))

missing_y, missing_z = [], []
for start, level in zip(MISSING_ROWS, MISSING_LEVEL):
    missing_y += [start, start + 6]
    missing_z += [[level] * 9, [None] * 9]
fig.add_trace(go.Heatmap(
    z=missing_z[:-1], x=list(range(10)), y=missing_y, zmin=0, zmax=1, xgap=1, showscale=False, xaxis='x', yaxis='y',
    colorscale=[[0, '#e8e8e8'], [1, '#808080']], hoverinfo='skip'
))

# dendrogram
node_x = [i + 0.5 for i in range(9)]
node_h = [0] * 9
for left, right, height, colour in zip(MERGE_LEFT, MERGE_RIGHT, MERGE_HEIGHT, MERGE_COLOUR):
    fig.add_trace(go.Scatter(
        x=[node_x[left], node_x[left], node_x[right], node_x[right]],
        y=[node_h[left], height, height, node_h[right]],
        mode='lines', line={'color': colour, 'width': 1.2}, xaxis='x2', yaxis='y2', hoverinfo='skip', showlegend=False
    ))
    node_x.append((node_x[left] + node_x[right]) / 2)
    node_h.append(height)

axes = {
    'xaxis': dict(domain=[px(50), px(338)], range=[0, 9], showticklabels=False, ticks='', showgrid=False, zeroline=False,
                  showline=True, mirror=True, linecolor='#111111', linewidth=1.5, anchor='y'),
    'yaxis': dict(domain=[py(428), py(79)], range=[1283, 237], showgrid=False, zeroline=False, showline=True, mirror=True,
                  linecolor='#111111', linewidth=1.5, anchor='x', ticks='outside', ticklen=4, tickwidth=1, tickcolor='#222222',
                  tickvals=CHROM_POS, ticktext=CHROM_LABELS, ticklabelstandoff=1, ticklabelshift=3,
                  tickfont={'size': 7.5, 'color': '#222222', 'family': FONT, 'weight': 'bold'}),
    'xaxis2': dict(domain=[px(50), px(338)], range=[0, 9], visible=False, anchor='y2'),
    'yaxis2': dict(domain=[py(67), py(7)], range=[0, 182], visible=False, anchor='x2'),
}

for n, p in enumerate(panels):
    xa, ya = 'x{}'.format(n + 3), 'y{}'.format(n + 3)
    left, right, top, bottom = p['frame']
    fig.add_trace(go.Scatter(
        x=[c[0] for c in p['core']], y=[c[1] for c in p['core']], mode='lines', fill='toself', fillcolor='black',
        line={'color': 'black', 'width': 4, 'shape': 'spline'}, xaxis=xa, yaxis=ya, hoverinfo='skip', showlegend=False
    ))
    fig.add_trace(go.Scatter(
        x=[c[0] for c in p['points']], y=[c[1] for c in p['points']], mode='markers', xaxis=xa, yaxis=ya,
        marker={'symbol': 'circle-open', 'size': 4.5, 'color': '#111111', 'line': {'width': 1.2}},
        hoverinfo='skip', showlegend=False
    ))
    fig.add_trace(go.Scatter(
        x=[c[0] for c in p['fit']], y=[c[1] for c in p['fit']], mode='lines', xaxis=xa, yaxis=ya,
        line={'color': '#d8262c', 'width': 1.5}, hoverinfo='skip', showlegend=False
    ))
    common = dict(showgrid=False, zeroline=False, showline=True, mirror=True, linecolor='#333333', linewidth=1.5,
                  ticks='outside', ticklen=4, tickwidth=1, tickcolor='#444444', ticklabelstandoff=4,
                  tickfont={'size': 8, 'color': TICK_GREY, 'family': FONT})
    axes['xaxis{}'.format(n + 3)] = dict(domain=[px(left), px(right)], range=p['xr'], tickvals=p['xt'], anchor=ya, **common)
    axes['yaxis{}'.format(n + 3)] = dict(domain=[py(bottom), py(top)], range=p['yr'], tickvals=p['yt'], anchor=xa,
                                         tickangle=-90, **common)

TITLE_SIZE = 13.9
LABEL_SIZE = 11
notes = [
    text(8, 11, 'A', 20, '#111111', True), text(415, 10, 'B', 20, '#111111', True), text(8, 534, 'C', 20, '#111111', True),
    text(13, 250, 'Chromosome', 15.5, angle=-90),
    text(556, 13, "Spearman's correlation = 0.3749", TITLE_SIZE, '#1a2433', True),
    text(561, 263, "Spearman's correlation = 0.5162", TITLE_SIZE, '#1a2433', True),
    text(124, 560, "Spearman's correlation = 0.281", TITLE_SIZE, '#1a2433', True),
    text(359, 560, "Spearman's correlation = 0.4326", TITLE_SIZE, '#1a2433', True),
    text(590, 560, "Spearman's correlation = 0.352", TITLE_SIZE, '#1a2433', True),
    text(557, 240, 'Protein Intensity Log2 Value (LN1)', LABEL_SIZE, TICK_GREY),
    text(443, 121, 'RNA\u2212Seq FPKM Log2 Value (LN1)', LABEL_SIZE, TICK_GREY, angle=-90),
    text(558, 488, 'Protein Intensity Log2 Value (L)', LABEL_SIZE, TICK_GREY),
    text(444, 370, 'RNA\u2212Seq FPKM Log2 Value (L)', LABEL_SIZE, TICK_GREY, angle=-90),
    text(129, 784, 'Protein intensity Log2 Ratio (LN1)', LABEL_SIZE, TICK_GREY),
    text(15, 666, 'RNA\u2212Seq Log2 FPKM (LN1)', LABEL_SIZE, TICK_GREY, angle=-90),
    text(367, 785, 'Protein intensity Log2 Ratio (L)', LABEL_SIZE, TICK_GREY),
    text(253, 669, 'RNA\u2212Seq Log2 FPKM (L)', LABEL_SIZE, TICK_GREY, angle=-90),
    text(599, 783, 'Protein intensity Log2 Ratio (PDX)', LABEL_SIZE, TICK_GREY),
    text(485, 665, 'RNA\u2212Seq Log2 FPKM (PDX)', LABEL_SIZE, TICK_GREY, angle=-90),
]
for p in panels:
    notes.append(text(p['tag_at'][0], p['tag_at'][1], p['tag'], 7.5, TICK_GREY))
for label, x in zip(SAMPLES, SAMPLE_LABEL_X):
    notes.append(text(x, 468, label, 12, '#222222', angle=-90, yanchor='bottom'))

fig.update_layout(width=W, height=H, autosize=False, margin={'l': 0, 'r': 0, 't': 0, 'b': 0}, paper_bgcolor='white',
                  plot_bgcolor='white', font={'family': FONT}, showlegend=False, annotations=notes, **axes)

fig.write_html("out.html", config={'displayModeBar': False}, post_script="document.body.style.margin='0'")
